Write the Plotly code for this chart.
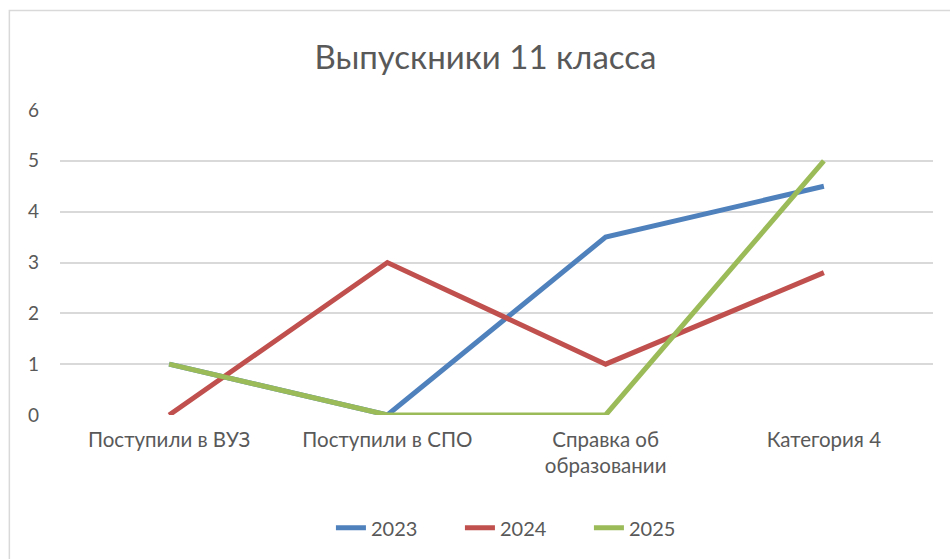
import plotly.graph_objects as go

categories = ["Поступили в ВУЗ", "Поступили в СПО", "Справка об<br>образовании", "Категория 4"]
series_names = ["2023", "2024", "2025"]
values_2023 = [1, 0, 3.5, 4.5]
values_2024 = [0, 3, 1, 2.8]
values_2025 = [1, 0, 0, 5]
colors = ["#4F81BD", "#C0504D", "#9BBB59"]
y_ticks = [0, 1, 2, 3, 4, 5, 6]

FONT = "Lato"
fig = go.Figure()
for name, vals, col in zip(series_names, [values_2023, values_2024, values_2025], colors):
    fig.add_trace(go.Scatter(x=categories, y=vals, name=name, mode="lines",
                             line=dict(color=col, width=5)))

fig.update_layout(
    width=950, height=559,
    paper_bgcolor="white", plot_bgcolor="white",
    margin=dict(l=60, r=17, t=110, b=144, autoexpand=False),
    title=dict(text="Выпускники 11 класса", x=0.511, xanchor="center", y=0.898, yanchor="middle",
               font=dict(family=FONT, size=33, color="#595959")),
    font=dict(family=FONT, color="#595959"),
    xaxis=dict(type="category", range=[-0.5, 3.5], showgrid=False, showline=False,
               ticks="", tickfont=dict(size=20.5, color="#595959"), zeroline=False,
               automargin=False),
    yaxis=dict(range=[0, 6], tickvals=y_ticks, showgrid=True, gridcolor="#D9D9D9", gridwidth=1.5,
               zeroline=False, showline=False, ticks="", ticklen=0, automargin=False,
               tickfont=dict(size=19, color="#595959")),
    legend=dict(orientation="h", x=0.532, xanchor="center", y=-0.37, yanchor="middle",
                font=dict(size=20, color="#595959"), entrywidth=84, entrywidthmode="pixels",
                traceorder="normal"),
    showlegend=True,
    shapes=[dict(type="rect", xref="paper", yref="paper", x0=-0.058, x1=1.2, y0=-0.7, y1=1.326,
                 line=dict(color="#D9D9D9", width=1.5), fillcolor="rgba(0,0,0,0)", layer="below")],
)
fig.update_yaxes(ticklabelstandoff=20)
fig.update_xaxes(ticklabelstandoff=10)
fig.write_html("out.html", config={"displayModeBar": False},
               post_script="document.body.style.margin='0';")
